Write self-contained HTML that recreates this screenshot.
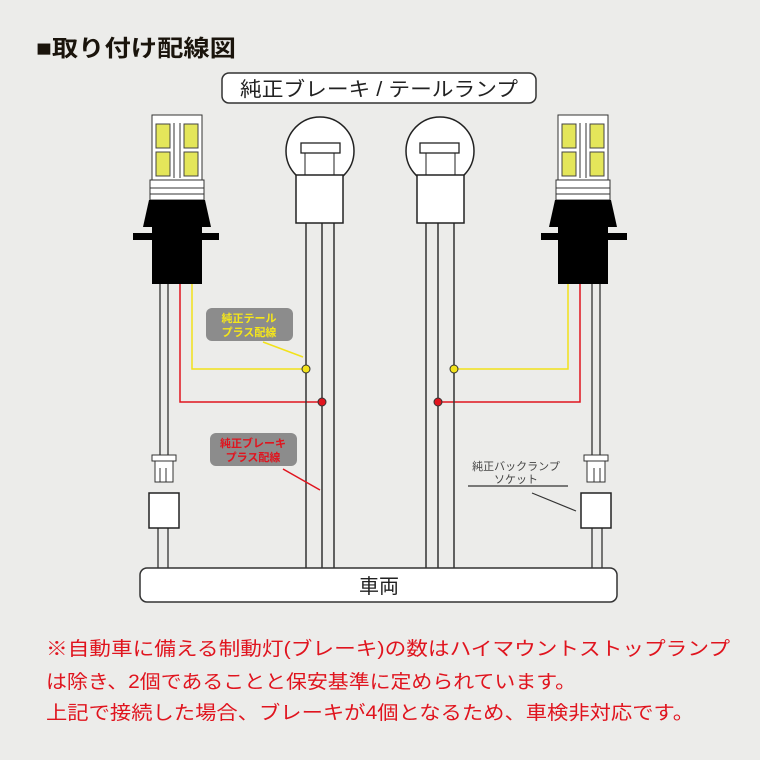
<!DOCTYPE html>
<html><head><meta charset="utf-8"><style>
body{margin:0;width:760px;height:760px;background:#ececea;overflow:hidden}
svg{display:block}
text{font-family:"Liberation Sans","Noto Sans CJK JP",sans-serif}
</style></head><body>
<svg width="760" height="760" viewBox="0 0 760 760" xmlns="http://www.w3.org/2000/svg">
<rect width="760" height="760" fill="#ececea"/>
<text x="36" y="56" font-size="23" font-weight="bold" fill="#1a140c" textLength="200" lengthAdjust="spacingAndGlyphs">■取り付け配線図</text>
<rect x="222" y="73" width="314" height="30" rx="7" fill="#fff" stroke="#333" stroke-width="1.5"/>
<text x="240" y="96" font-size="20" fill="#222" textLength="278" lengthAdjust="spacingAndGlyphs">純正ブレーキ / テールランプ</text>

<g id="half">
<g stroke="#333" stroke-width="1.3" fill="none">
<line x1="160" y1="283" x2="160" y2="455"/><line x1="168" y1="283" x2="168" y2="455"/>
<line x1="158" y1="528" x2="158" y2="568"/><line x1="168" y1="528" x2="168" y2="568"/>
</g>
<polyline points="192,283 192,369 306,369" fill="none" stroke="#f2e21a" stroke-width="1.5"/>
<polyline points="180,283 180,402 322,402" fill="none" stroke="#e0141e" stroke-width="1.5"/>
<rect x="152" y="115" width="50" height="66" fill="#fff" stroke="#333" stroke-width="1"/>
<rect x="156" y="124" width="14" height="24" fill="#e4e65a" stroke="#444"/>
<rect x="184" y="124" width="14" height="24" fill="#e4e65a" stroke="#444"/>
<rect x="156" y="152" width="14" height="24" fill="#e4e65a" stroke="#444"/>
<rect x="184" y="152" width="14" height="24" fill="#e4e65a" stroke="#444"/>
<line x1="174" y1="123" x2="174" y2="178" stroke="#333"/><line x1="180" y1="123" x2="180" y2="178" stroke="#333"/>
<rect x="150" y="180" width="54" height="20" fill="#fff" stroke="#333"/>
<line x1="150" y1="188" x2="204" y2="188" stroke="#333"/><line x1="150" y1="194" x2="204" y2="194" stroke="#333"/>
<polygon points="149,200 205,200 211,227 143,227" fill="#000"/>
<rect x="152" y="226" width="50" height="58" fill="#000"/>
<rect x="133" y="233" width="86" height="7" fill="#000"/>
<rect x="152" y="455" width="24" height="6" fill="#fff" stroke="#333"/>
<rect x="155" y="461" width="18" height="21" fill="#fff" stroke="#333"/>
<line x1="160" y1="468" x2="160" y2="482" stroke="#333"/><line x1="166" y1="468" x2="166" y2="482" stroke="#333"/>
<rect x="149" y="493" width="30" height="35" fill="#fff" stroke="#222" stroke-width="1.5"/>
<g stroke="#333" stroke-width="1.5" fill="none">
<line x1="306" y1="222" x2="306" y2="568"/><line x1="322" y1="222" x2="322" y2="568"/><line x1="334" y1="222" x2="334" y2="568"/>
</g>
<circle cx="320" cy="151" r="34" fill="#fff" stroke="#222" stroke-width="1.5"/>
<rect x="301" y="143" width="39" height="10" fill="#fff" stroke="#222" stroke-width="1.3"/>
<line x1="305" y1="153" x2="305" y2="176" stroke="#222"/><line x1="334" y1="153" x2="334" y2="176" stroke="#222"/>
<rect x="296" y="175" width="47" height="48" fill="#fff" stroke="#222" stroke-width="1.5"/>
<circle cx="306" cy="369" r="4" fill="#f2e21a" stroke="#333"/>
<circle cx="322" cy="402" r="4" fill="#e0141e" stroke="#333"/>
</g>
<use href="#half" transform="translate(760,0) scale(-1,1)"/>

<rect x="206" y="308" width="87" height="33" rx="6" fill="#8c8c8c"/>
<text x="249" y="322" font-size="11" font-weight="bold" fill="#f5e61a" text-anchor="middle">純正テール</text>
<text x="249" y="336" font-size="11" font-weight="bold" fill="#f5e61a" text-anchor="middle">プラス配線</text>
<line x1="263" y1="342" x2="303" y2="357" stroke="#f2e21a" stroke-width="1.5"/>
<rect x="210" y="433" width="87" height="33" rx="6" fill="#8c8c8c"/>
<text x="253" y="447" font-size="11" font-weight="bold" fill="#e0141e" text-anchor="middle">純正ブレーキ</text>
<text x="253" y="461" font-size="11" font-weight="bold" fill="#e0141e" text-anchor="middle">プラス配線</text>
<line x1="283" y1="469" x2="320" y2="490" stroke="#e0141e" stroke-width="1.5"/>

<text x="516" y="470" font-size="11" fill="#444" text-anchor="middle">純正バックランプ</text>
<text x="516" y="483" font-size="11" fill="#444" text-anchor="middle">ソケット</text>
<line x1="468" y1="486" x2="568" y2="486" stroke="#333" stroke-width="1.2"/>
<line x1="532" y1="493" x2="576" y2="511" stroke="#333" stroke-width="1.2"/>

<rect x="140" y="568" width="477" height="34" rx="7" fill="#fff" stroke="#333" stroke-width="1.5"/>
<text x="379" y="593" font-size="20" text-anchor="middle" fill="#222">車両</text>

<g font-size="19" fill="#e0141e">
<text x="46" y="655" textLength="684" lengthAdjust="spacingAndGlyphs">※自動車に備える制動灯(ブレーキ)の数はハイマウントストップランプ</text>
<text x="46" y="688" textLength="530" lengthAdjust="spacingAndGlyphs">は除き、2個であることと保安基準に定められています。</text>
<text x="46" y="719" textLength="648" lengthAdjust="spacingAndGlyphs">上記で接続した場合、ブレーキが4個となるため、車検非対応です。</text>
</g>
</svg>
</body></html>
